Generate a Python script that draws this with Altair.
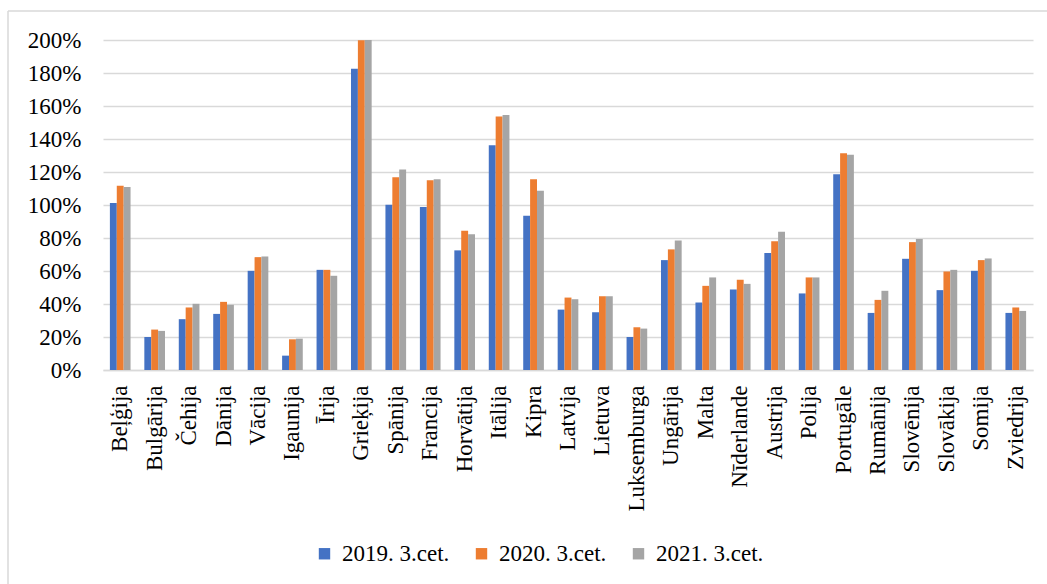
import altair as alt
import pandas as pd

countries = [
    "Beļģija", "Bulgārija", "Čehija", "Dānija", "Vācija", "Igaunija", "Īrija",
    "Grieķija", "Spānija", "Francija", "Horvātija", "Itālija", "Kipra", "Latvija",
    "Lietuva", "Luksemburga", "Ungārija", "Malta", "Nīderlande", "Austrija",
    "Polija", "Portugāle", "Rumānija", "Slovēnija", "Slovākija", "Somija", "Zviedrija",
]
series = ["2019. 3.cet.", "2020. 3.cet.", "2021. 3.cet."]

q3_2019 = [101.2, 20.0, 30.8, 34.0, 60.1, 8.7, 60.7, 182.6, 100.2, 98.8, 72.5, 136.2,
           93.5, 36.6, 35.0, 20.0, 66.6, 40.9, 48.8, 70.9, 46.4, 118.6, 34.6, 67.4,
           48.4, 60.1, 34.6]
q3_2020 = [111.7, 24.5, 37.9, 41.3, 68.4, 18.6, 60.7, 199.9, 116.8, 115.0, 84.4, 153.6,
           115.6, 43.9, 44.7, 25.9, 73.1, 51.0, 54.7, 78.1, 56.1, 131.4, 42.5, 77.5,
           59.7, 66.6, 37.9]
q3_2021 = [110.9, 23.7, 40.1, 39.5, 68.8, 19.0, 57.1, 200.7, 121.5, 115.6, 82.2, 154.5,
           108.7, 42.9, 44.7, 25.1, 78.5, 56.1, 52.2, 83.8, 56.1, 130.4, 48.0, 79.4,
           60.7, 67.6, 35.8]

colors = ["#4472C4", "#ED7D31", "#A5A5A5"]
font = "Liberation Serif"
grid_color = "#D9D9D9"

rows = []
for s, vals in zip(series, [q3_2019, q3_2020, q3_2021]):
    for c, v in zip(countries, vals):
        rows.append({"valsts": c, "periods": s, "vertiba": v})
df = pd.DataFrame(rows)

bars = alt.Chart(df).mark_bar(clip=True).encode(
    x=alt.X(
        "valsts:N",
        sort=countries,
        title=None,
        scale=alt.Scale(paddingInner=0.4, paddingOuter=0.2),
        axis=alt.Axis(
            labelAngle=-90,
            labelFont=font,
            labelFontSize=23,
            labelColor="#000000",
            labelPadding=15,
            ticks=False,
            domainColor=grid_color,
            domainWidth=1.5,
            grid=False,
        ),
    ),
    xOffset=alt.XOffset("periods:N", sort=series, scale=alt.Scale(paddingInner=0)),
    y=alt.Y(
        "vertiba:Q",
        title=None,
        scale=alt.Scale(domain=[0, 200], nice=False),
        axis=alt.Axis(
            values=list(range(0, 201, 20)),
            labelExpr="datum.value + '%'",
            labelFont=font,
            labelFontSize=23,
            labelColor="#000000",
            labelPadding=22,
            ticks=False,
            domain=False,
            gridColor=grid_color,
            gridWidth=1.3,
        ),
    ),
    color=alt.Color(
        "periods:N",
        sort=series,
        scale=alt.Scale(domain=series, range=colors),
        legend=alt.Legend(
            title=None,
            orient="none",
            direction="horizontal",
            legendX=210,
            legendY=502,
            symbolType="square",
            symbolSize=130,
            symbolStrokeWidth=0,
            labelFont=font,
            labelFontSize=23,
            labelColor="#000000",
            labelOffset=6,
            labelLimit=300,
            columnPadding=20,
        ),
    ),
)

# light frame around the chart (top and left edges)
frame_top = alt.Chart().mark_rule(color=grid_color, strokeWidth=1.5).encode(
    x=alt.value(-95), x2=alt.value(960), y=alt.value(-29)
)
frame_left = alt.Chart().mark_rule(color=grid_color, strokeWidth=1.5).encode(
    x=alt.value(-95), y=alt.value(-29), y2=alt.value(560)
)

chart = (
    alt.layer(bars, frame_top, frame_left)
    .properties(
        width=930,
        height=330,
        autosize=alt.AutoSizeParams(type="none"),
        padding={"left": 103, "top": 40, "right": 14, "bottom": 214},
        background="#FFFFFF",
    )
    .configure_view(stroke=None)
    .configure_legend(labelFont=font, labelFontSize=23, labelColor="#000000")
)

chart.save("out.html", embed_options={"renderer": "svg", "actions": False})
